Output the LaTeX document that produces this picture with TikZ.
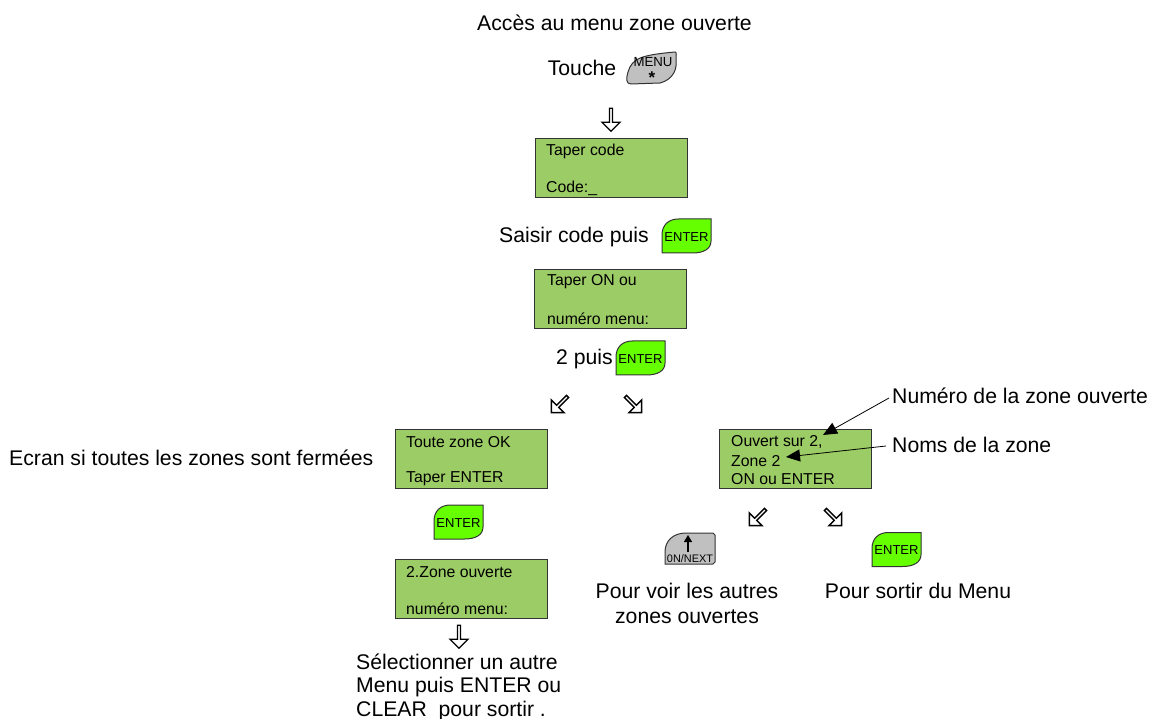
\documentclass[tikz,border=0pt]{standalone}
\usepackage{fontspec}
\setmainfont{Liberation Sans}
\usepackage{xcolor}
\usetikzlibrary{arrows.meta}
\usetikzlibrary{shapes.arrows}
\definecolor{ecran}{HTML}{9CCC65}
\definecolor{vert}{HTML}{66FF00}
\definecolor{gris}{HTML}{C0C0C0}
\tikzset{
    texte/.style={inner sep=0pt, font=\fontsize{21.2}{25}\selectfont},
    lcd/.style={draw=black!80, fill=ecran, line width=0.9pt, minimum width=152pt, minimum height=59pt, inner sep=0pt},
    ligne/.style={anchor=west, inner sep=0pt, yshift=-1pt, font=\fontsize{15.8}{19}\selectfont},
    fleche/.style={single arrow, draw=black, fill=white, line width=1.4pt, inner sep=0pt, minimum width=18pt, minimum height=23pt, single arrow head extend=3.5pt, single arrow tip angle=90, rotate=#1},
    renvoi/.style={black, line width=0.8pt, -{Triangle[length=14pt,width=12pt]}},
    touche/.style={draw=black!80, line width=1pt},
    pics/enter/.style={code={
        \draw[touche, fill=vert] (-8,-17) -- (24.5,-17) -- (24.5,5) .. controls (24.5,13) and (17,17) .. (6,17) -- (-24.5,17) -- (-24.5,-1) .. controls (-24.5,-11) and (-18,-17) .. (-8,-17) -- cycle;
        \node[inner sep=0pt, font=\fontsize{13}{15}\selectfont] (-nom) at (0,1) {ENTER};
    }},
}
\begin{document}
\begin{tikzpicture}[x=1pt, y=-1pt]
    \useasboundingbox (0,0) rectangle (1149,719);
    % acces au menu
    \node[texte] (titre) at (614.5,23) {Accès au menu zone ouverte};
    \node[texte] (touche) at (582,68) {Touche};
    \draw[touche, fill=gris] (631,84) .. controls (626,84) and (626,79) .. (628,72) .. controls (632,58) and (642,55) .. (675,52) .. controls (677,52) and (676,55) .. (676,66) .. controls (675,75) and (668,81) .. (660,83) -- cycle;
    \node[inner sep=0pt, font=\fontsize{13.2}{15}\selectfont] (menu) at (653,62) {MENU};
    \node[inner sep=0pt, font=\bfseries\fontsize{17}{15}\selectfont] (etoile) at (652,78) {*};
    \node[fleche=-90] (f1) at (611,119) {};
    % ecrans du milieu
    \node[lcd] (code) at (611,167.5) {};
    \node[ligne] (code1) at (546,150) {Taper code};
    \node[ligne] (code2) at (546,187) {Code:\_};
    \node[texte] (saisir) at (574,237) {Saisir code puis};
    \pic (k1) at (686.5,236) {enter};
    \node[lcd] (menu2) at (610.5,298.5) {};
    \node[ligne] (menu21) at (547,281) {Taper ON ou};
    \node[ligne] (menu22) at (547,318) {numéro menu:};
    \node[texte] (puis) at (584.5,359) {2 puis};
    \pic (k2) at (640.5,358) {enter};
    \node[fleche=-135] (f2) at (560,404) {};
    \node[fleche=-45] (f3) at (633,404) {};
    % branche de gauche
    \node[texte, anchor=west] (ecran) at (9,458) {Ecran si toutes les zones sont fermées};
    \node[lcd] (ok) at (471,458.5) {};
    \node[ligne] (ok1) at (406,441) {Toute zone OK};
    \node[ligne] (ok2) at (406,478) {Taper ENTER};
    \pic (k3) at (458.5,522) {enter};
    \node[lcd] (zone) at (471,588.5) {};
    \node[ligne] (zone1) at (406,571) {2.Zone ouverte};
    \node[ligne] (zone2) at (406,608) {numéro menu:};
    \node[fleche=-90] (f4) at (459,636) {};
    \node[texte, anchor=west] (sel1) at (356,662) {Sélectionner un autre};
    \node[texte, anchor=west] (sel2) at (356,687) {Menu puis ENTER ou};
    \node[texte, anchor=west] (sel3) at (356,711) {CLEAR\ \ pour sortir .};
    % branche de droite
    \node[lcd] (ouvert) at (795,458.5) {};
    \node[ligne] (ouvert1) at (731,441) {Ouvert sur 2,};
    \node[ligne] (ouvert2) at (731,460) {Zone 2};
    \node[ligne] (ouvert3) at (731,478) {ON ou ENTER};
    \node[texte, anchor=west] (numero) at (892,396) {Numéro de la zone ouverte};
    \node[texte, anchor=west] (noms) at (892,445) {Noms de la zone};
    \coordinate (c1) at (823,435);
    \coordinate (c2) at (786,457);
    \draw[renvoi] (numero.west) ++(-3,2) -- (c1);
    \draw[renvoi] (noms.west) ++(-6,1) -- (c2);
    \node[fleche=-135] (f5) at (758,517) {};
    \node[fleche=-45] (f6) at (833,517) {};
    \draw[touche, fill=gris] (665,564) -- (665,552) .. controls (665,541) and (673,533) .. (686,533) -- (713,533) -- (715,535) -- (715,562) -- (713,564) -- cycle;
    \coordinate (b1) at (688,552);
    \coordinate (b2) at (688,535);
    \draw[black, line width=1.4pt, -{Triangle[length=7pt,width=8pt]}] (b1) -- (b2);
    \node[inner sep=0pt, font=\fontsize{10.9}{13}\selectfont] (next) at (690,559) {0N/NEXT};
    \pic (k4) at (896.5,549.5) {enter};
    \node[texte] (voir1) at (687,591) {Pour voir les autres};
    \node[texte] (voir2) at (687,617) {zones ouvertes};
    \node[texte] (sortir) at (918,591) {Pour sortir du Menu};
\end{tikzpicture}
\end{document}
